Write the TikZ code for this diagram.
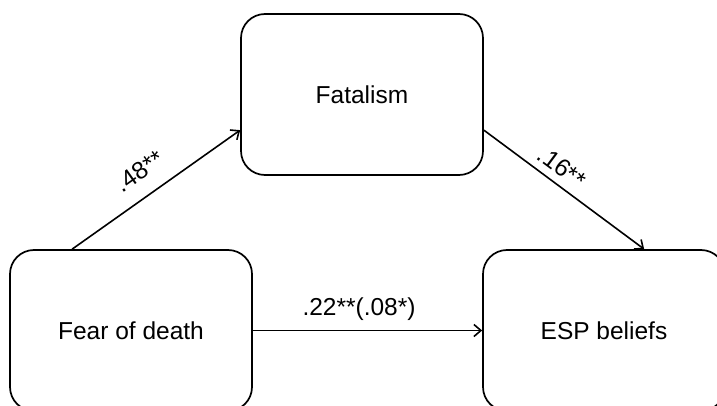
\documentclass[tikz,border=0pt]{standalone}
\usepackage{fontspec}
\setmainfont{Liberation Sans}
\usetikzlibrary{arrows.meta}

\begin{document}
\begin{tikzpicture}[x=1pt,y=-1pt,
    box/.style={draw,line width=1.7pt,rounded corners=24pt,minimum width=242pt,minimum height=161pt,font=\fontsize{24.5}{29}\selectfont},
    path/.style={line width=1.6pt,-{Straight Barb[length=7pt,width=12pt]}},
    coef/.style={font=\fontsize{24.5}{29}\selectfont,sloped}]
  \useasboundingbox (0,0) rectangle (717,406);
  \node[box](fear) at (131,330.5){Fear of death};
  \node[box](fatal) at (362,94.5){Fatalism};
  \node[box](esp) at (604,330.5){ESP beliefs};

  \draw[path] ([xshift=63pt]fear.north west) -- node[coef,pos=0.485,above=12pt]{.48**} ([yshift=-117pt]fatal.north west);
  \draw[path] ([yshift=-117pt]fatal.north east) -- node[coef,pos=0.425,above=4pt]{.16**} ([xshift=162pt]esp.north west);
  \draw[path] (fear.east) -- node[coef,pos=0.463,above=6pt]{.22**(.08*)} (esp.west);
\end{tikzpicture}
\end{document}
